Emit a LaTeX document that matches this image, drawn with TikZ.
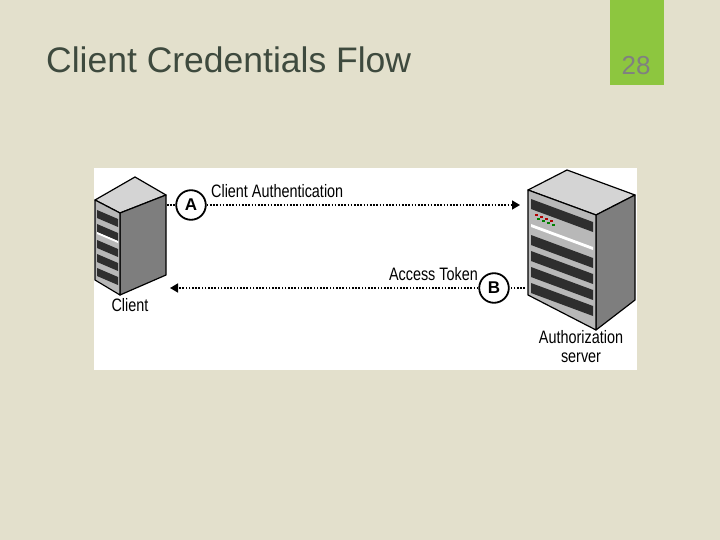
\documentclass[tikz,border=0pt]{standalone}
\usepackage{fontspec}
\setmainfont{Liberation Sans}
\usetikzlibrary{arrows.meta}
\definecolor{bg}{HTML}{E3E0CC}
\definecolor{tab}{HTML}{8DC63F}
\definecolor{titlec}{HTML}{3E4A3E}
\definecolor{front}{HTML}{B8B8B8}
\definecolor{side}{HTML}{7E7E7E}
\definecolor{topc}{HTML}{D4D4D4}
\definecolor{slot}{HTML}{2E2E2E}
\tikzset{
  face/.style={draw=black, line width=1.2pt, line join=round},
  lbl/.style={font=\fontsize{18}{19}\selectfont, xscale=0.8, inner sep=0pt},
  circ/.style={circle, draw=black, line width=1.8pt, inner sep=4.5pt, font=\bfseries\fontsize{17}{17}\selectfont, fill=white},
  flow/.style={line width=1.6pt, dash pattern=on 1.6pt off 1.6pt},
  tip/.style={-{Triangle[length=8pt,width=9pt]}}
}
\begin{document}
\begin{tikzpicture}[x=1pt,y=-1pt]
\useasboundingbox (0,0) rectangle (720,540);
\fill[bg] (0,0) rectangle (720,540);
\fill[tab] (610,0) rectangle (664,85);
\node[anchor=base west, text=titlec, font=\fontsize{35.5}{38}\selectfont, inner sep=0pt] (title) at (46,73) {Client Credentials Flow};
\node[anchor=base, text=gray, font=\fontsize{26}{28}\selectfont, inner sep=0pt] (num) at (636,75) {28};
\fill[white] (94,168) rectangle (637,370);
% client server
\fill[topc,face] (95,200) -- (135,177) -- (166,195) -- (120,213) -- cycle;
\fill[side,face] (120,213) -- (166,195) -- (166,275) -- (120,295) -- cycle;
\fill[front,face] (95,200) -- (120,213) -- (120,295) -- (95,280) -- cycle;
\foreach \y in {0,14,30,44,58} {
  \fill[slot] (97,{210+\y}) -- (118,{219+\y}) -- (118,{227+\y}) -- (97,{218+\y}) -- cycle;
}
\fill[white] (97,232) -- (118,241) -- (118,243) -- (97,234) -- cycle;
% auth server
\fill[topc,face] (528,190) -- (567,170) -- (635,195) -- (596,215) -- cycle;
\fill[side,face] (596,215) -- (635,195) -- (635,300) -- (596,330) -- cycle;
\fill[front,face] (528,190) -- (596,215) -- (596,330) -- (528,295) -- cycle;
\foreach \y in {0,36,52,68,84} {
  \fill[slot] (531,{199+\y}) -- (593,{222+\y}) -- (593,{232+\y}) -- (531,{209+\y}) -- cycle;
}
\fill[white] (531,224) -- (593,247) -- (593,250) -- (531,227) -- cycle;
\foreach \i in {0,1,2,3} {
  \fill[red!70!black] ({535+5*\i},{214+2*\i}) rectangle +(3,2);
  \fill[green!50!black] ({537+5*\i},{218+2*\i}) rectangle +(3,2);
}
% labels
\node[lbl, anchor=north] (cl) at (130,298) {Client};
\node[lbl, anchor=north, align=center] (as) at (581,330) {Authorization\\server};
\coordinate (c1) at (167,205);
\coordinate (c2) at (520,205);
\coordinate (d1) at (170,288);
\coordinate (d2) at (525,288);
\node[circ] (A) at (191,205) {A};
\node[circ] (B) at (494,288) {B};
\node[lbl, anchor=base west] (ca) at (211,197) {Client Authentication};
\node[lbl, anchor=base east] (at) at (478,280) {Access Token};
\draw[flow] (c1) -- (A);
\draw[flow,tip] (A) -- (c2);
\draw[flow] (d2) -- (B);
\draw[flow,tip] (B) -- (d1);
\end{tikzpicture}
\end{document}
